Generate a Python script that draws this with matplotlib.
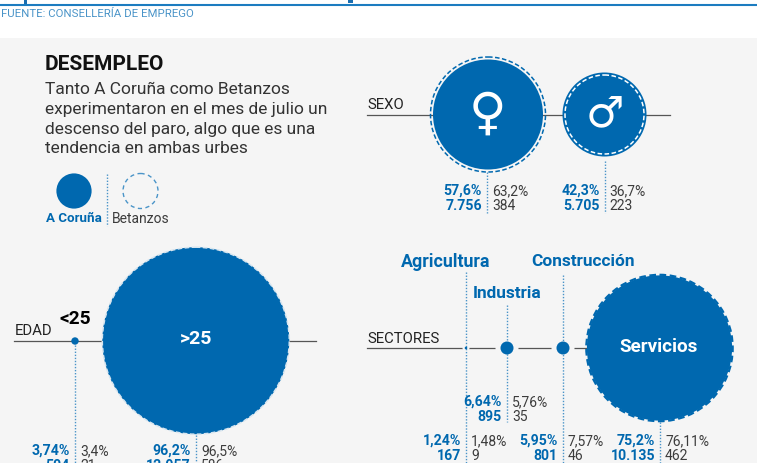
#!/usr/bin/env python3
"""Desempleo infographic: A Coruña vs Betanzos, by sex, age and sector."""
import matplotlib
matplotlib.use("Agg")
import matplotlib.pyplot as plt
from matplotlib.patches import Circle, Rectangle

BLUE, LIGHT, INK, GREY = "#0068AF", "#4A94C8", "#222222", "#3C3C3C"
BG = "#F5F5F5"

SEXO_PCT = ["57,6%", "42,3%"]
SEXO_N = ["7.756", "5.705"]
SEXO_PCT_B = ["63,2%", "36,7%"]
SEXO_N_B = ["384", "223"]
EDAD_LABELS = ["<25", ">25"]
EDAD_PCT = ["3,74%", "96,2%"]
EDAD_N = ["504", "12.957"]
EDAD_PCT_B = ["3,4%", "96,5%"]
EDAD_N_B = ["21", "586"]
SECTORES = ["Agricultura", "Industria", "Construcción", "Servicios"]
SECT_PCT = ["1,24%", "6,64%", "5,95%", "75,2%"]
SECT_N = ["167", "895", "801", "10.135"]
SECT_PCT_B = ["1,48%", "5,76%", "7,57%", "76,11%"]
SECT_N_B = ["9", "35", "46", "462"]
BODY = ["Tanto A Coruña como Betanzos", "experimentaron en el mes de julio un",
        "descenso del paro, algo que es una", "tendencia en ambas urbes"]

fig = plt.figure(figsize=(7.57, 4.63), dpi=100, facecolor="white")
ax = fig.add_axes([0, 0, 1, 1])
ax.set_xlim(0, 757); ax.set_ylim(463, 0); ax.axis("off")


def txt(x, y, s, size, color=INK, ha="left", weight="normal", family="Roboto"):
    ax.text(x, y, s, fontsize=size, color=color, ha=ha, va="center", weight=weight,
            family=family, zorder=6)


def hline(x0, x1, y):
    ax.plot([x0, x1], [y, y], color="#555555", lw=0.9, zorder=1)


def vdots(x, y0, y1):
    ax.plot([x, x], [y0, y1], color=LIGHT, lw=1, ls=(0, (1, 1.2)), zorder=2)


def bubble(x, y, r, rb, dash_color, lw=1.1):
    ax.add_patch(Circle((x, y), r, fc=BLUE, ec="none", zorder=3))
    ax.add_patch(Circle((x, y), rb, fc="none", ec=dash_color, lw=lw,
                        ls=(0, (3, 1.6)), zorder=4))


def stats(x, y, pct, n, pct_b, n_b):
    txt(x - 5, y, pct, 10.2, BLUE, "right", "bold")
    txt(x - 5, y + 15.3, n, 10.2, BLUE, "right", "bold")
    txt(x + 5, y, pct_b, 10, GREY)
    txt(x + 5, y + 15.3, n_b, 10, GREY)


# page furniture, with the descenders of the cropped headline above the rule
ax.add_patch(Rectangle((0, 38), 757, 425, fc=BG, ec="none", zorder=0))
ax.plot([0, 757], [4.5, 4.5], color="#1C7CC0", lw=1.5)
ax.add_patch(Rectangle((24, 0), 3, 3.5, fc="#1A6EB0", ec="none"))
ax.add_patch(Rectangle((348, 0), 5, 3, fc="#1A6EB0", ec="none"))
txt(1, 14, "FUENTE: CONSELLERÍA DE EMPREGO", 8.2, "#4A94C8")

# intro + key
txt(45, 65, "DESEMPLEO", 15, "#111111", weight="bold")
for i, line in enumerate(BODY):
    txt(45, 90 + i * 19.6, line, 12.5, "#333333")
ax.add_patch(Circle((74, 191), 17.6, fc=BLUE, ec="none"))
ax.add_patch(Circle((140.5, 191), 17.5, fc="none", ec=LIGHT, lw=1, ls=(0, (3, 2.5))))
vdots(107, 174, 226)
txt(102, 219, "A Coruña", 9.6, BLUE, "right", "bold")
txt(112, 219, "Betanzos", 10, GREY)

# sexo
txt(367, 105, "SEXO", 10.7)
hline(367, 670, 114.5)
bubble(488, 114.5, 55, 57.5, BLUE)
bubble(604.5, 114.5, 42, 39.5, "white")
txt(487, 115, "♀", 37, "white", "center", family="DejaVu Sans")
txt(604.5, 115, "♂", 31, "white", "center", family="DejaVu Sans")
vdots(487, 172, 213); vdots(604.5, 161, 213)
stats(487, 191, SEXO_PCT[0], SEXO_N[0], SEXO_PCT_B[0], SEXO_N_B[0])
stats(604.5, 191, SEXO_PCT[1], SEXO_N[1], SEXO_PCT_B[1], SEXO_N_B[1])

# edad
txt(15, 331, "EDAD", 10.7)
hline(14, 316, 340.5)
ax.add_patch(Circle((75, 341), 3.7, fc=BLUE, ec="none", zorder=3))
bubble(195.8, 340.7, 93.5, 93.5, "#D8E6F0")
txt(75, 319, EDAD_LABELS[0], 13.8, "black", "center", "bold")
txt(196, 339, EDAD_LABELS[1], 14, "white", "center", "bold")
vdots(75, 345, 463); vdots(196, 435, 463)
stats(75, 451, EDAD_PCT[0], EDAD_N[0], EDAD_PCT_B[0], EDAD_N_B[0])
stats(196, 451, EDAD_PCT[1], EDAD_N[1], EDAD_PCT_B[1], EDAD_N_B[1])

# sectores
txt(367, 339, "SECTORES", 10.7)
hline(367, 590, 348)
ax.add_patch(Circle((466, 348), 3.5, fc=BG, ec="none", zorder=2))
ax.add_patch(Circle((466, 348), 1.3, fc=BLUE, ec="none", zorder=3))
for x, r in [(507, 6.5), (563, 6.5)]:
    ax.add_patch(Circle((x, 348), r + 5, fc=BG, ec="none", zorder=2))
    ax.add_patch(Circle((x, 348), r, fc=BLUE, ec="none", zorder=3))
bubble(659.5, 348, 72.6, 73.2, BLUE, lw=1.6)
txt(445.5, 262, SECTORES[0], 12.8, BLUE, "center", "bold")
txt(507.5, 293, SECTORES[1], 12.4, BLUE, "center", "bold")
txt(583, 261, SECTORES[2], 12.4, BLUE, "center", "bold")
txt(659, 347, SECTORES[3], 13.6, "white", "center", "bold")
vdots(466, 272, 463); vdots(507, 305, 422); vdots(563, 275, 463); vdots(660, 422, 463)
stats(466, 441, SECT_PCT[0], SECT_N[0], SECT_PCT_B[0], SECT_N_B[0])
stats(507, 402, SECT_PCT[1], SECT_N[1], SECT_PCT_B[1], SECT_N_B[1])
stats(563, 441, SECT_PCT[2], SECT_N[2], SECT_PCT_B[2], SECT_N_B[2])
stats(660, 441, SECT_PCT[3], SECT_N[3], SECT_PCT_B[3], SECT_N_B[3])

fig.savefig("out.png", dpi=100, facecolor="white")
